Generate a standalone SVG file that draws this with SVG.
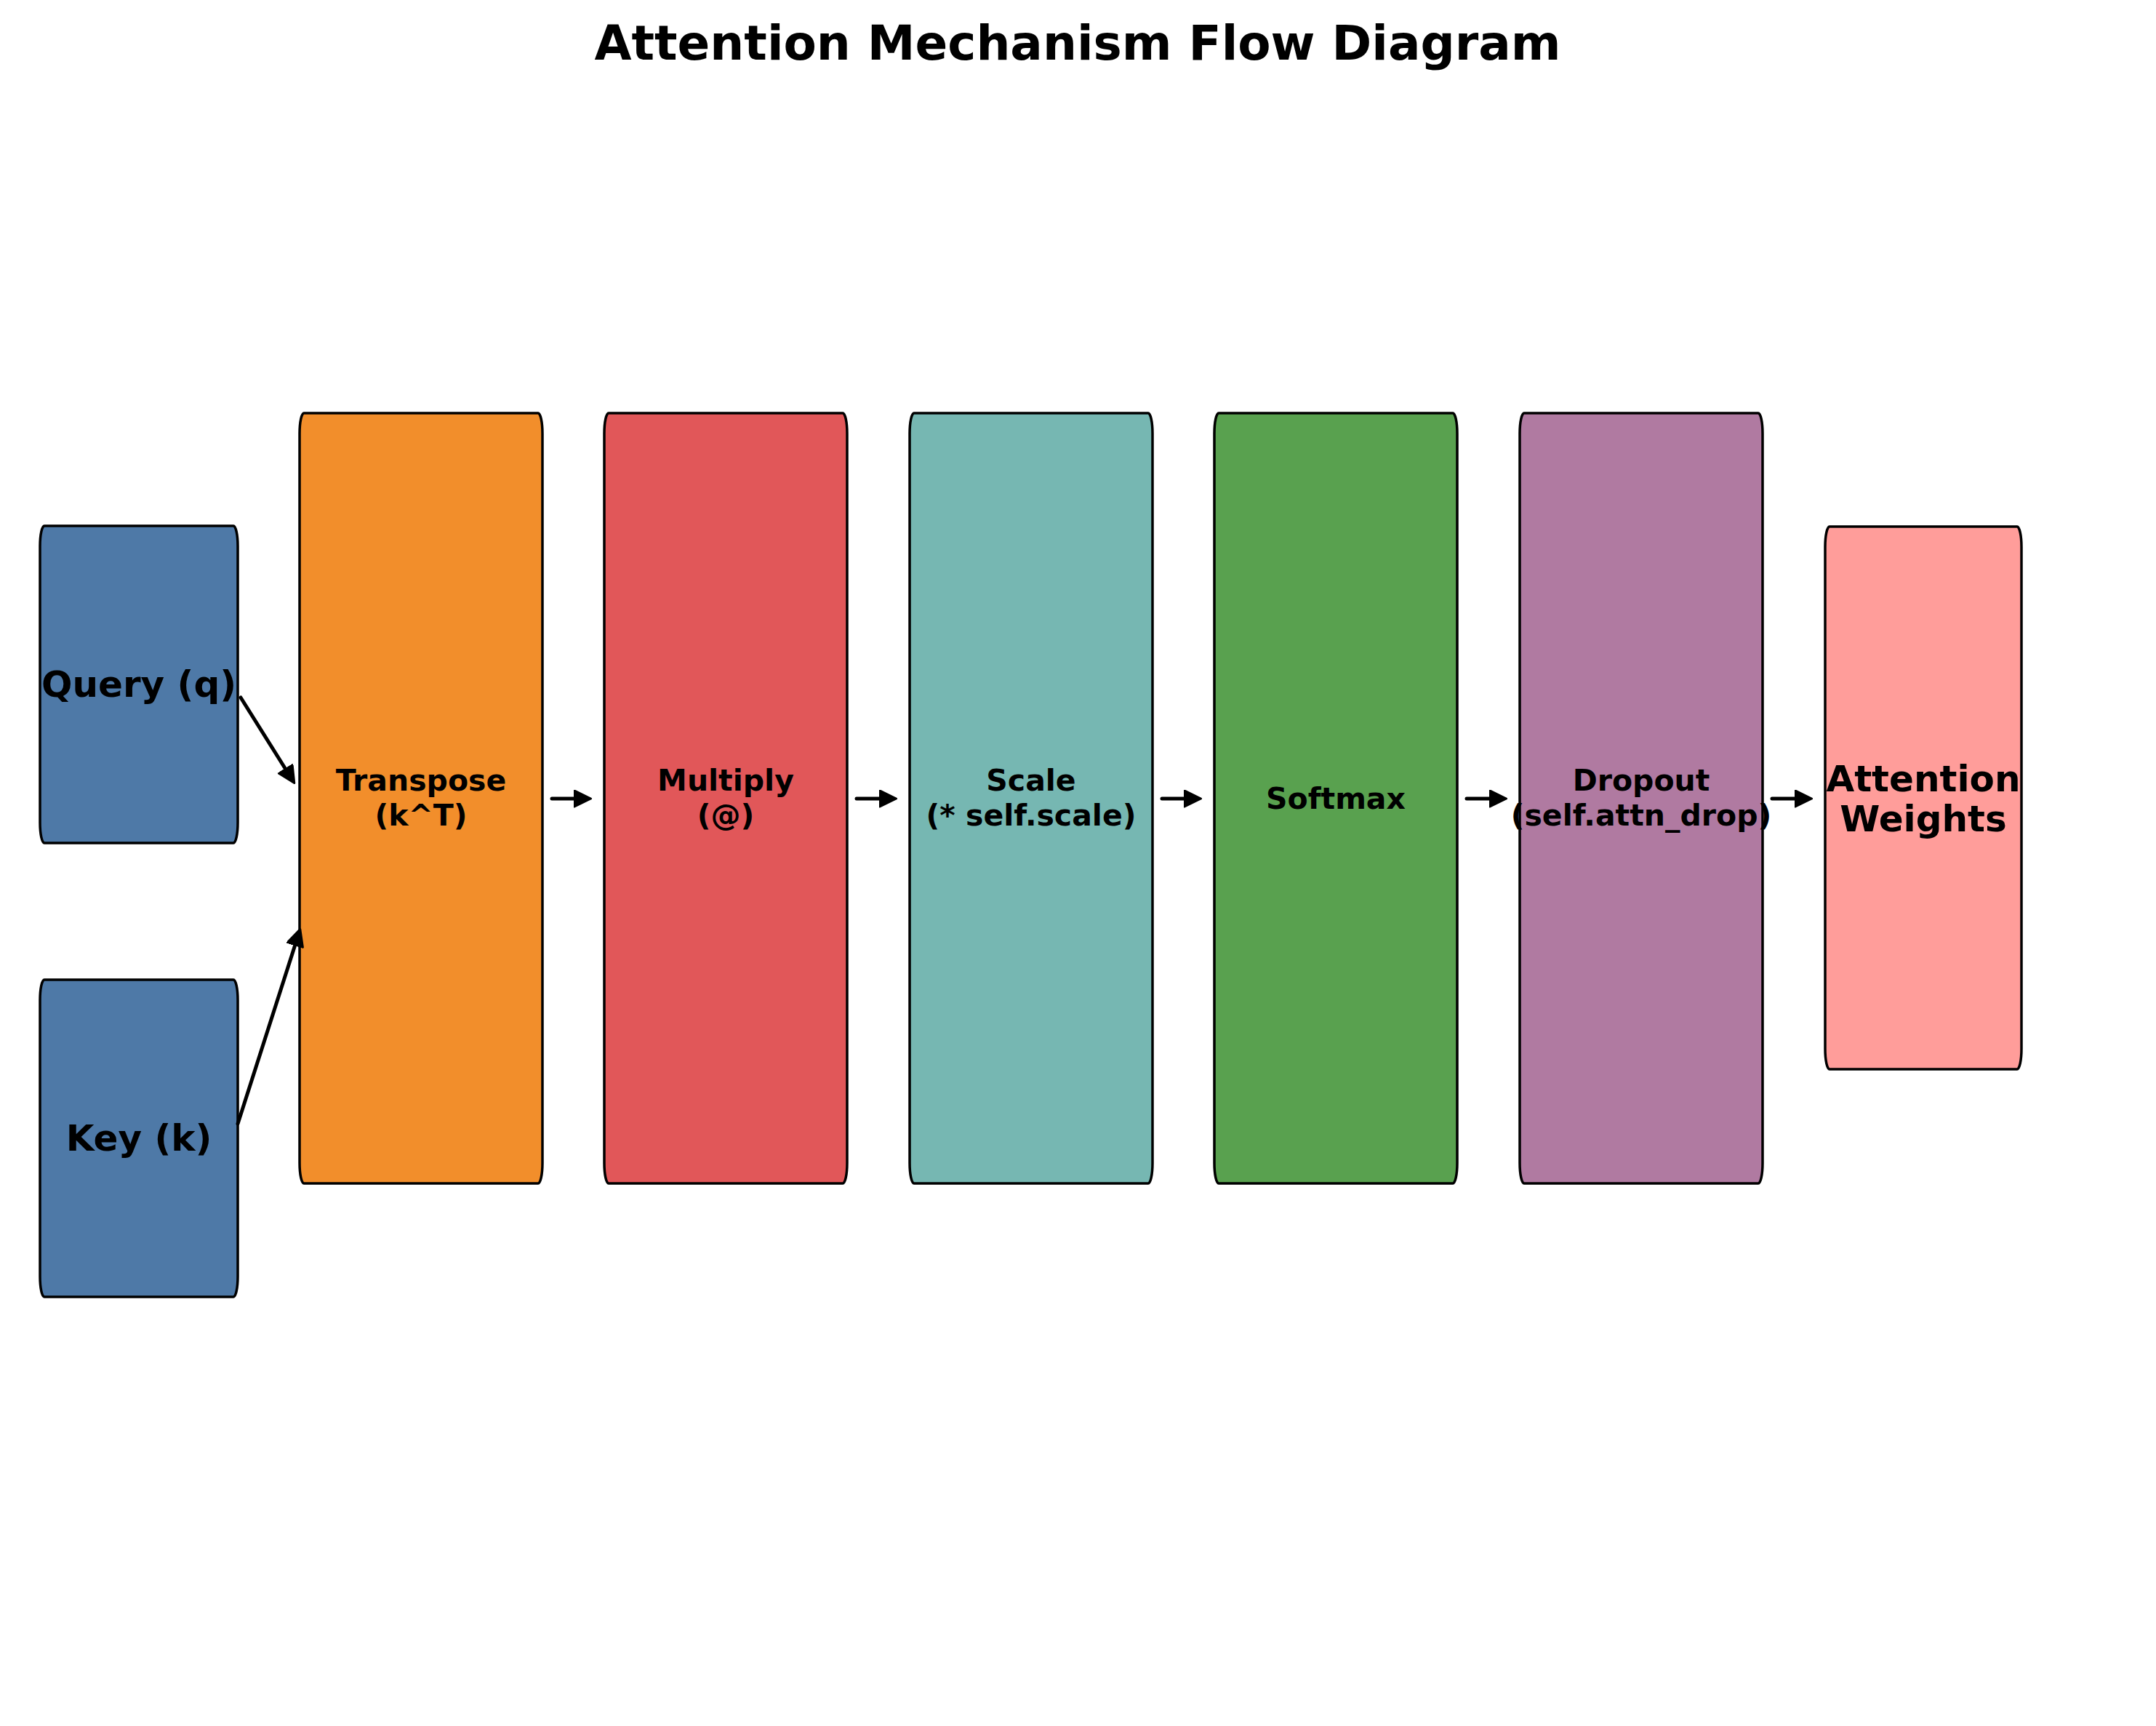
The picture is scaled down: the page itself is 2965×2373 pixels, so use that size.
<svg xmlns="http://www.w3.org/2000/svg" width="2965" height="2373" viewBox="0 0 2965 2373">
<style>
.box{stroke:#000;stroke-width:3.5}
.t{font-family:"DejaVu Sans",sans-serif;font-weight:bold;fill:#000;text-anchor:middle}
.s40{font-size:41px}
.s49{font-size:50px}
.conn line{stroke:#000;stroke-width:5;stroke-linecap:round;fill:none}
</style>
<defs>
<marker id="ah" markerUnits="userSpaceOnUse" markerWidth="30" markerHeight="30" viewBox="0 0 30 30" refX="1.5" refY="12" orient="auto">
<path d="M1.5,1 L24,12 L1.5,23 Z" fill="#000" stroke="#000" stroke-width="3" stroke-linejoin="round"/>
</marker>
</defs>
<rect width="2965" height="2373" fill="#fff"/>
<text class="t" x="1482" y="82" style="font-size:66px">Attention Mechanism Flow Diagram</text>
<g id="query">
<rect class="box" x="55" y="723" width="272" height="436" rx="6" ry="28" fill="#4E79A7"/>
<text class="t s49" x="191" y="958">Query (q)</text>
</g>
<g id="key">
<rect class="box" x="55" y="1347" width="272" height="436" rx="6" ry="28" fill="#4E79A7"/>
<text class="t s49" x="191" y="1582">Key (k)</text>
</g>
<g id="transpose">
<rect class="box" x="412" y="568" width="334" height="1059" rx="6" ry="28" fill="#F28E2B"/>
<text class="t s40" x="579" y="1087">Transpose</text>
<text class="t s40" x="579" y="1135">(k^T)</text>
</g>
<g id="multiply">
<rect class="box" x="831" y="568" width="334" height="1059" rx="6" ry="28" fill="#E15759"/>
<text class="t s40" x="998" y="1087">Multiply</text>
<text class="t s40" x="998" y="1135">(@)</text>
</g>
<g id="scale">
<rect class="box" x="1251" y="568" width="334" height="1059" rx="6" ry="28" fill="#76B7B2"/>
<text class="t s40" x="1418" y="1087">Scale</text>
<text class="t s40" x="1418" y="1135">(* self.scale)</text>
</g>
<g id="softmax">
<rect class="box" x="1670" y="568" width="334" height="1059" rx="6" ry="28" fill="#59A14F"/>
<text class="t s40" x="1837" y="1112">Softmax</text>
</g>
<g id="dropout">
<rect class="box" x="2090" y="568" width="334" height="1059" rx="6" ry="28" fill="#B07AA1"/>
<text class="t s40" x="2257" y="1087">Dropout</text>
<text class="t s40" x="2257" y="1135">(self.attn_drop)</text>
</g>
<g id="attention">
<rect class="box" x="2510" y="724" width="270" height="746" rx="6" ry="28" fill="#FF9D9A"/>
<text class="t s49" x="2645" y="1088">Attention</text>
<text class="t s49" x="2645" y="1143">Weights</text>
</g>
<g id="connectors" class="conn">
<line x1="331" y1="959" x2="392.8" y2="1057.5" marker-end="url(#ah)"/>
<line x1="327" y1="1545" x2="405.9" y2="1298.9" marker-end="url(#ah)"/>
<line x1="759" y1="1098" x2="790" y2="1098" marker-end="url(#ah)"/>
<line x1="1178" y1="1098" x2="1210" y2="1098" marker-end="url(#ah)"/>
<line x1="1598" y1="1098" x2="1629" y2="1098" marker-end="url(#ah)"/>
<line x1="2017" y1="1098" x2="2049" y2="1098" marker-end="url(#ah)"/>
<line x1="2437" y1="1098" x2="2469" y2="1098" marker-end="url(#ah)"/>
</g>
</svg>
